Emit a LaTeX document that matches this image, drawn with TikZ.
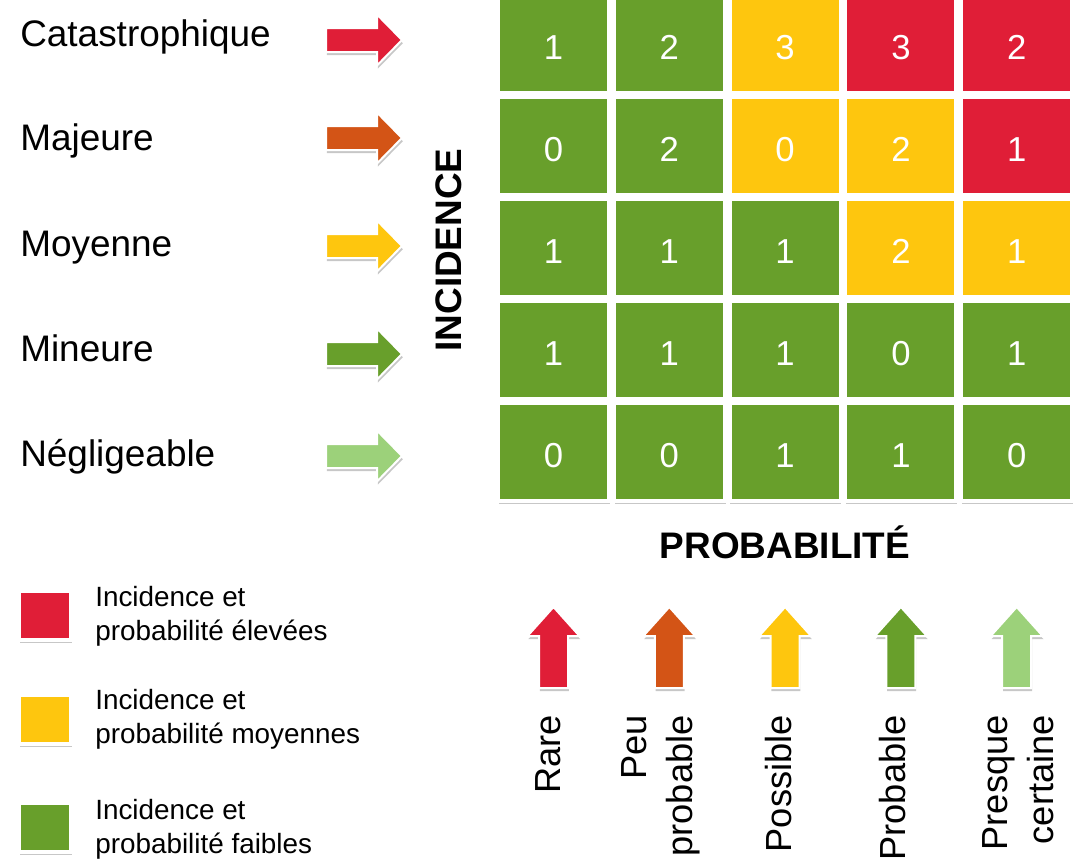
\documentclass[tikz,border=0pt]{standalone}
\usepackage{fontspec}
\setmainfont{Liberation Sans}
\usetikzlibrary{shadows}
\definecolor{cred}{HTML}{E01E37}
\definecolor{corange}{HTML}{D35416}
\definecolor{cyellow}{HTML}{FEC60E}
\definecolor{cgreen}{HTML}{689F2B}
\definecolor{clight}{HTML}{9CD17A}
\begin{document}
\begin{tikzpicture}[x=0.75pt,y=-0.75pt,
  shad/.style={drop shadow={shadow xshift=0.6pt,shadow yshift=-2.4pt,opacity=0.22,fill=black}},
  cell/.style={shad, draw=white, line width=3pt, minimum width=83.25pt, minimum height=73.5pt, inner sep=0pt, text height=23pt, text depth=0pt, text=white, font=\fontsize{26}{30}\selectfont},
  G/.style={cell, fill=cgreen},
  Y/.style={cell, fill=cyellow},
  R/.style={cell, fill=cred},
  arr/.style={shad, draw=white, line width=1.5pt},
  lab/.style={anchor=base west, inner sep=0pt, font=\fontsize{27.7}{33}\selectfont},
  axis/.style={inner sep=0pt, font=\fontsize{27.7}{33}\selectfont\bfseries},
  blab/.style={rotate=90, anchor=east, inner sep=0pt, align=right, font=\fontsize{27.2}{34.5}\selectfont},
  leg/.style={shad, draw=white, line width=3pt, minimum width=39pt, minimum height=36.75pt, inner sep=0pt},
  legtxt/.style={anchor=north west, inner sep=0pt, align=left, font=\fontsize{20.9}{25.5}\selectfont}]
\useasboundingbox (0,0) rectangle (1076,864);
\clip (0,0) rectangle (1076,864);

% grid
\node[G] (c11) at (553.5,44) {1};
\node[G] (c12) at (669.3,44) {2};
\node[Y] (c13) at (785.1,44) {3};
\node[R] (c14) at (900.9,44) {3};
\node[R] (c15) at (1016.7,44) {2};
\node[G] (c21) at (553.5,146) {0};
\node[G] (c22) at (669.3,146) {2};
\node[Y] (c23) at (785.1,146) {0};
\node[Y] (c24) at (900.9,146) {2};
\node[R] (c25) at (1016.7,146) {1};
\node[G] (c31) at (553.5,248) {1};
\node[G] (c32) at (669.3,248) {1};
\node[G] (c33) at (785.1,248) {1};
\node[Y] (c34) at (900.9,248) {2};
\node[Y] (c35) at (1016.7,248) {1};
\node[G] (c41) at (553.5,350) {1};
\node[G] (c42) at (669.3,350) {1};
\node[G] (c43) at (785.1,350) {1};
\node[G] (c44) at (900.9,350) {0};
\node[G] (c45) at (1016.7,350) {1};
\node[G] (c51) at (553.5,452) {0};
\node[G] (c52) at (669.3,452) {0};
\node[G] (c53) at (785.1,452) {1};
\node[G] (c54) at (900.9,452) {1};
\node[G] (c55) at (1016.7,452) {0};

% left labels
\node[lab] (l1) at (20,46) {Catastrophique};
\node[lab] (l2) at (20,150) {Majeure};
\node[lab] (l3) at (20,256) {Moyenne};
\node[lab] (l4) at (20,361) {Mineure};
\node[lab] (l5) at (20,466) {Négligeable};

% right arrows
\foreach \yy/\cc in {40/cred,138/corange,246/cyellow,354/cgreen,456/clight}{
  \draw[arr, fill=\cc, shift={(326,\yy)}] (0,-12) -- (51,-12) -- (51,-25.5) -- (76,0) -- (51,25.5) -- (51,12) -- (0,12) -- cycle;
}

% axis titles
\node[axis, rotate=90] (inc) at (449,250) {INCIDENCE};
\node[axis, anchor=base] (prob) at (785,558) {PROBABILITÉ};

% up arrows
\foreach \xx/\cc in {553.5/cred,669.3/corange,785.1/cyellow,900.9/cgreen,1016.7/clight}{
  \draw[arr, fill=\cc, shift={(\xx,0)}] (-14.5,688) -- (-14.5,636) -- (-26,636) -- (0,607) -- (26,636) -- (14.5,636) -- (14.5,688) -- cycle;
}

% bottom labels
\node[blab] (b1) at (548,715) {Rare};
\node[blab] (b2) at (661,715) {Peu\\probable};
\node[blab] (b3) at (779,715) {Possible};
\node[blab] (b4) at (893,715) {Probable};
\node[blab] (b5) at (1018,715) {Presque\\certaine};

% legend
\node[leg, fill=cred] (k1) at (45,615.5) {};
\node[leg, fill=cyellow] (k2) at (45,719) {};
\node[leg, fill=cgreen] (k3) at (45,827.5) {};
\node[legtxt] (t1) at (95,586) {Incidence et\\probabilité élevées};
\node[legtxt] (t2) at (95,689) {Incidence et\\probabilité moyennes};
\node[legtxt] (t3) at (95,799) {Incidence et\\probabilité faibles};
\end{tikzpicture}
\end{document}
